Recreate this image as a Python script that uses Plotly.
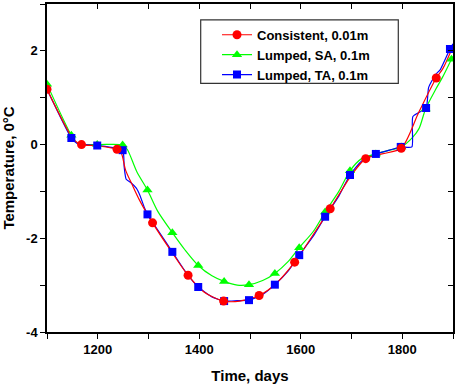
import plotly.graph_objects as go

# ---- data ----
cons_t = [1100, 1150, 1160, 1168, 1200, 1238, 1246, 1255, 1268, 1282, 1308, 1340, 1378, 1410,
          1448, 1480, 1518, 1550, 1588, 1620, 1658, 1700, 1728, 1760, 1798, 1833, 1867, 1880, 1900]
cons_v = [1.18, 0.14, 0.04, 0.0, -0.03, -0.10, -0.17, -0.55, -0.86, -1.18, -1.67, -2.20, -2.79, -3.15,
          -3.34, -3.34, -3.22, -2.98, -2.51, -2.00, -1.37, -0.65, -0.30, -0.20, -0.08, 0.70, 1.42, 1.62, 2.10]
cons_mk_t = [1100, 1168, 1238, 1308, 1378, 1448, 1518, 1588, 1658, 1728, 1798, 1867]
cons_mk_v = [1.18, 0.0, -0.10, -1.67, -2.79, -3.34, -3.22, -2.51, -1.37, -0.30, -0.08, 1.42]

sa_t = [1100, 1148, 1160, 1199, 1249, 1258, 1277, 1298, 1318, 1347, 1372, 1398, 1425, 1449, 1475,
        1498, 1525, 1549, 1575, 1597, 1625, 1648, 1675, 1697, 1720, 1748, 1775, 1798, 1820, 1833,
        1846, 1866, 1880, 1897, 1900]
sa_v = [1.29, 0.20, 0.03, 0.0, -0.01, -0.10, -0.58, -0.97, -1.42, -1.88, -2.25, -2.58, -2.80, -2.92, -3.00,
        -2.99, -2.90, -2.75, -2.50, -2.20, -1.85, -1.44, -1.00, -0.56, -0.30, -0.20, -0.12, -0.05, 0.15, 0.34,
        0.76, 1.18, 1.45, 1.82, 1.88]
sa_mk_t = [1100, 1148, 1199, 1249, 1298, 1347, 1398, 1449, 1498, 1549, 1597, 1648, 1697, 1748, 1798, 1846, 1897]
sa_mk_v = [1.29, 0.20, 0.0, -0.01, -0.97, -1.88, -2.58, -2.92, -2.99, -2.75, -2.20, -1.44, -0.56, -0.20, -0.05, 0.76, 1.82]

ta_t = [1100, 1148, 1160, 1199, 1249, 1252, 1256, 1266, 1276, 1283, 1292, 1298, 1320, 1347, 1372,
        1398, 1425, 1449, 1475, 1498, 1525, 1549, 1575, 1597, 1625, 1648, 1675, 1697, 1720, 1748,
        1775, 1797, 1819, 1821, 1847, 1852, 1866, 1875, 1894, 1900]
ta_v = [1.18, 0.14, 0.02, -0.02, -0.12, -0.47, -0.74, -0.82, -0.93, -1.08, -1.35, -1.49, -1.85, -2.29, -2.70,
        -3.04, -3.25, -3.34, -3.33, -3.32, -3.20, -2.99, -2.70, -2.36, -1.95, -1.54, -1.10, -0.65, -0.35, -0.20,
        -0.12, -0.05, -0.05, 0.60, 0.78, 1.22, 1.50, 1.60, 2.04, 2.15]
ta_mk_t = [1148, 1199, 1249, 1298, 1347, 1398, 1449, 1498, 1549, 1597, 1648, 1697, 1748, 1797, 1847, 1894]
ta_mk_v = [0.14, -0.02, -0.12, -1.49, -2.29, -3.04, -3.34, -3.32, -2.99, -2.36, -1.54, -0.65, -0.20, -0.05, 0.78, 2.04]

names = ["Consistent, 0.01m", "Lumped, SA, 0.1m", "Lumped, TA, 0.1m"]
x_ticks = [1100, 1200, 1300, 1400, 1500, 1600, 1700, 1800, 1900]
x_labels = ["", "1200", "", "1400", "", "1600", "", "1800", ""]
y_ticks = [-4, -3, -2, -1, 0, 1, 2, 3]
y_labels = ["-4", "", "-2", "", "0", "", "2", ""]

RED, GREEN, BLUE = "#FF0000", "#00FF00", "#0000FF"
FONT = dict(family="Arial", color="black", weight="bold")

fig = go.Figure()
# lines
fig.add_trace(go.Scatter(x=sa_t, y=sa_v, mode="lines", line=dict(color=GREEN, width=1.2, shape="spline", smoothing=0.8), showlegend=False))
fig.add_trace(go.Scatter(x=ta_t, y=ta_v, mode="lines", line=dict(color=BLUE, width=1.2, shape="spline", smoothing=0.5), showlegend=False))
fig.add_trace(go.Scatter(x=cons_t, y=cons_v, mode="lines", line=dict(color=RED, width=1.2, shape="spline", smoothing=0.8), showlegend=False))
# markers
fig.add_trace(go.Scatter(x=sa_mk_t, y=sa_mk_v, mode="markers", marker=dict(symbol="triangle-up", size=9, color=GREEN), showlegend=False))
fig.add_trace(go.Scatter(x=ta_mk_t, y=ta_mk_v, mode="markers", marker=dict(symbol="square", size=8, color=BLUE), showlegend=False))
fig.add_trace(go.Scatter(x=cons_mk_t, y=cons_mk_v, mode="markers", marker=dict(symbol="circle", size=9, color=RED), showlegend=False))
# legend entries
for nm, col, sym, sz in zip(names, [RED, GREEN, BLUE], ["circle", "triangle-up", "square"], [9, 9, 8]):
    fig.add_trace(go.Scatter(x=[None], y=[None], mode="lines+markers", name=nm,
                             line=dict(color=col, width=1.2), marker=dict(symbol=sym, size=sz, color=col)))

L, R, T, B = 47, 12, 4, 50
W, H = 465, 386
pw, ph = W - L - R, H - T - B

def px2x(p):
    return (p - L) / pw

def px2y(p):
    return 1 - (p - T) / ph

fig.add_shape(type="rect", xref="paper", yref="paper",
              x0=px2x(200.7), x1=px2x(398.3), y0=px2y(84.3), y1=px2y(20),
              line=dict(color="#333333", width=1.2), fillcolor="rgba(0,0,0,0)")

axis_common = dict(showgrid=False, zeroline=False, showline=True, linecolor="black", linewidth=1.5,
                   ticklen=5, tickwidth=1.2, tickcolor="black")
fig.update_layout(
    width=W, height=H, margin=dict(l=L, r=R, t=T, b=B),
    plot_bgcolor="white", paper_bgcolor="white",
    xaxis=dict(range=[1100, 1900], tickmode="array", tickvals=x_ticks, ticktext=x_labels, ticks="outside",
               tickfont=dict(size=13, **FONT), title=dict(text="Time, days", font=dict(size=15, **FONT), standoff=14),
               **axis_common),
    yaxis=dict(range=[-4, 3], tickmode="array", tickvals=y_ticks, ticktext=y_labels, ticks="outside",
               tickfont=dict(size=13, **FONT), title=dict(text="Temperature, 0°C", font=dict(size=15, **FONT), standoff=8),
               **axis_common),
    xaxis2=dict(range=[1100, 1900], overlaying="x", side="top", tickmode="array", tickvals=x_ticks,
                showticklabels=False, ticks="inside", **axis_common),
    yaxis2=dict(range=[-4, 3], overlaying="y", side="right", tickmode="array", tickvals=y_ticks,
                showticklabels=False, ticks="inside", **axis_common),
    legend=dict(x=px2x(217), y=px2y(20), xanchor="left", yanchor="top", bgcolor="rgba(0,0,0,0)",
                borderwidth=0, font=dict(size=13, **FONT), tracegroupgap=0),
    showlegend=True,
)
# invisible trace to anchor the mirror axes
fig.add_trace(go.Scatter(x=[None], y=[None], xaxis="x2", yaxis="y2", showlegend=False, hoverinfo="skip"))

fig.write_html("out.html")
